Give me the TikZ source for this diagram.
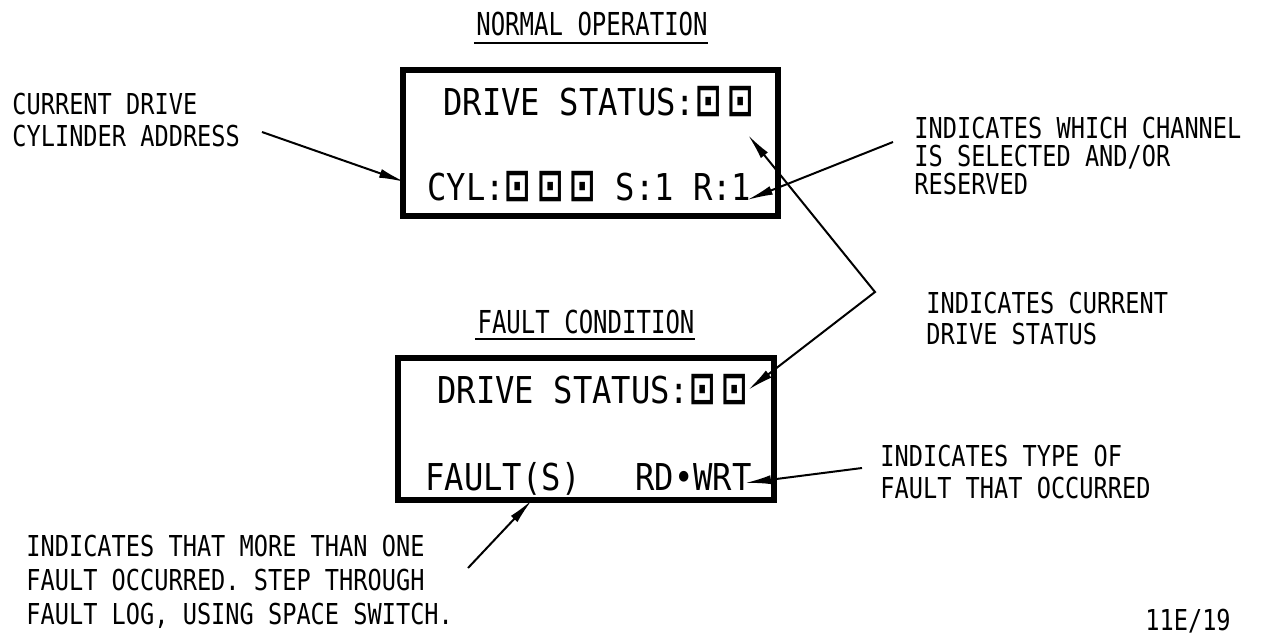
\documentclass[tikz,border=0pt]{standalone}
\usepackage{fontspec}
\usetikzlibrary{arrows.meta}
\newfontfamily\lblfont[FakeStretch=0.82]{DejaVu Sans Mono}
\newfontfamily\ttlfont[FakeStretch=0.76]{DejaVu Sans Mono}
\newfontfamily\dispfont[FakeStretch=0.87]{DejaVu Sans Mono}
\newfontfamily\digfont{DejaVu Sans}
\newcommand{\dg}{{\digfont\bfseries\scalebox{0.85}[1.2]{⊡}}}
\begin{document}
\begin{tikzpicture}[x=0.5pt,y=-0.5pt,
  lbl/.style={font=\lblfont\fontsize{14.4}{16}\selectfont, align=left, anchor=north west, inner sep=0pt},
  ttl/.style={font=\ttlfont\fontsize{15.8}{18}\selectfont, anchor=base, inner sep=0pt},
  disp/.style={font=\dispfont\fontsize{18.5}{22}\selectfont, anchor=base west, inner sep=0pt},
  panel/.style={draw, line width=2.6pt, inner sep=0pt},
  uline/.style={line width=1.1pt},
  lead/.style={line width=1pt, -{Latex[length=13pt,width=4.5pt]}},
  lead2/.style={line width=1pt, {Latex[length=13pt,width=4.5pt]}-{Latex[length=13pt,width=4.5pt]}}]
\useasboundingbox (0,0) rectangle (1266,634);
\fill[white] (0,0) rectangle (1266,634);

% titles
\node[ttl] (t1) at (592,35) {NORMAL OPERATION};
\draw[uline] (t1.base west) ++(-2,8) coordinate (u1a) -- (u1a -| t1.base east) coordinate (u1b);
\node[ttl] (t2) at (586,333) {FAULT CONDITION};
\draw[uline] (t2.base west) ++(-2,6) coordinate (u2a) -- (u2a -| t2.base east) coordinate (u2b);

% panels
\node[panel, minimum width=187.5pt, minimum height=73pt] (top) at (590.5,143) {};
\node[panel, minimum width=188pt, minimum height=71pt] (flt) at (586,429) {};

% panel texts
\node[disp] (ds1) at (443,115) {DRIVE STATUS:\dg\,\dg};
\node[disp] (cyl) at (427,200) {CYL:\dg\,\dg\,\dg\ S:1 R:1};
\node[disp] (ds2) at (437,403) {DRIVE STATUS:\dg\,\dg};
\node[disp] (fs) at (425,490) {FAULT(S)};
\node[disp] (rw) at (635,490) {RD•WRT};

% labels
\node[lbl] (lcyl) at (12,93) {CURRENT DRIVE\\CYLINDER ADDRESS};
\node[lbl, font=\lblfont\fontsize{14.4}{14}\selectfont] (lch) at (914,117) {INDICATES WHICH CHANNEL\\IS SELECTED AND/OR\\RESERVED};
\node[lbl, font=\lblfont\fontsize{14.4}{15.5}\selectfont] (lcur) at (926,292) {INDICATES CURRENT\\DRIVE STATUS};
\node[lbl] (ltyp) at (880,445) {INDICATES TYPE OF\\FAULT THAT OCCURRED};
\node[lbl, font=\lblfont\fontsize{14.4}{17}\selectfont] (lmore) at (26,535) {INDICATES THAT MORE THAN ONE\\FAULT OCCURRED. STEP THROUGH\\FAULT LOG, USING SPACE SWITCH.};
\node[lbl, anchor=base west] (ref) at (1145,630) {11E/19};

% leader coordinates
\coordinate (c1s) at (262,132);
\coordinate (c1e) at (405,182);
\coordinate (c2s) at (893,142);
\coordinate (c2e) at (747,200);
\coordinate (z1) at (748,135);
\coordinate (zb) at (875,292);
\coordinate (z2) at (748,390);
\coordinate (c3s) at (862,468);
\coordinate (c3e) at (745,483);
\coordinate (c4s) at (468,568);
\coordinate (c4e) at (532,500);

\draw[lead] (c1s) -- (c1e);
\draw[lead] (c2s) -- (c2e);
\draw[lead2] (z1) -- (zb) -- (z2);
\draw[lead] (c3s) -- (c3e);
\draw[lead] (c4s) -- (c4e);
\end{tikzpicture}
\end{document}
